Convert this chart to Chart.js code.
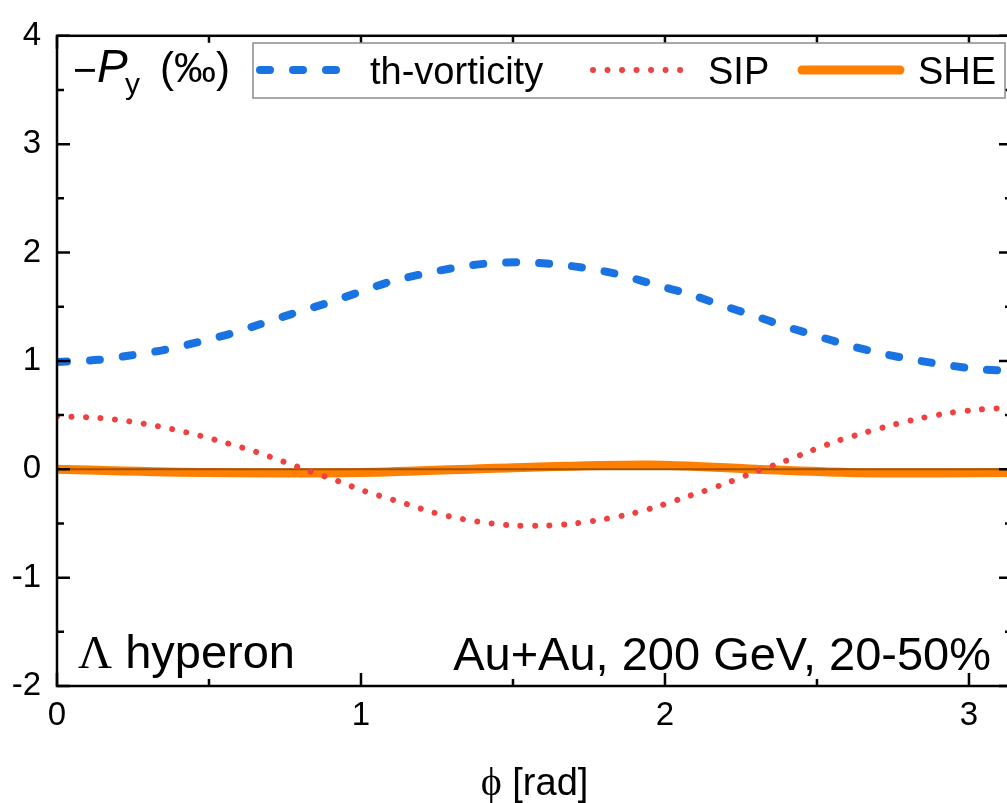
<!DOCTYPE html>
<html>
<head>
<meta charset="utf-8">
<script src="https://cdn.jsdelivr.net/npm/chart.js@4"></script>
<style>
  body { margin: 0; background: #fff; }
  #wrap { width: 1007px; height: 803px; overflow: hidden; }
</style>
</head>
<body>
<div id="wrap"><canvas id="myChart" width="1020" height="803"></canvas></div>
<script>
// values
const phiVort = [0, 0.135, 0.24, 0.35, 0.46, 0.57, 0.67, 0.78, 0.885, 0.99, 1.095, 1.20, 1.31, 1.42, 1.53, 1.645, 1.755, 1.86, 1.97, 2.075, 2.18, 2.29, 2.395, 2.50, 2.61, 2.71, 2.82, 2.93, 3.05, 3.1416]
const vort = [0.99, 1.01, 1.05, 1.10, 1.17, 1.25, 1.34, 1.44, 1.53, 1.63, 1.73, 1.80, 1.86, 1.90, 1.91, 1.89, 1.85, 1.79, 1.70, 1.62, 1.52, 1.42, 1.32, 1.23, 1.14, 1.07, 1.01, 0.96, 0.92, 0.91]

const phiSip = [0, 0.098, 0.19, 0.286, 0.38, 0.47, 0.56, 0.655, 0.745, 0.833, 0.925, 1.01, 1.15, 1.24, 1.335, 1.43, 1.515, 1.61, 1.705, 1.80, 1.89, 1.985, 2.075, 2.12, 2.21, 2.30, 2.39, 2.48, 2.565, 2.66, 2.75, 2.84, 2.935, 3.03, 3.1416]
const sip = [0.49, 0.48, 0.46, 0.42, 0.37, 0.31, 0.24, 0.16, 0.07, -0.02, -0.11, -0.20, -0.32, -0.40, -0.46, -0.50, -0.52, -0.52, -0.50, -0.46, -0.41, -0.335, -0.25, -0.21, -0.12, -0.02, 0.07, 0.17, 0.26, 0.34, 0.41, 0.47, 0.52, 0.55, 0.57]

const phiShe = [0, 0.5, 1.0, 1.5, 1.95, 2.3, 2.6, 2.9, 3.1416]
const she = [0.0, -0.03, -0.03, 0.015, 0.04, 0.0, -0.03, -0.035, -0.03]

const seriesNames = ['th-vorticity', 'SIP', 'SHE']
const xTickLabels = [0, 1, 2, 3]
const yTickLabels = [-2, -1, 0, 1, 2, 3, 4]

const sans = "'Liberation Sans', Arial, sans-serif"
const serif = "'Liberation Serif', 'Times New Roman', serif"

const pts = (xs, ys) => xs.map((v, i) => ({x: v, y: ys[i]}))

const styles = [
    {color: '#1a73e3', width: 8, dash: [10, 23], cap: 'round'},
    {color: '#f04141', width: 6, dash: [0.01, 14.5], cap: 'round'},
    {color: '#ff8000', width: 9, dash: [], cap: 'butt'}
]

let data = {
    datasets: [
        {label: seriesNames[0], data: pts(phiVort, vort)},
        {label: seriesNames[1], data: pts(phiSip, sip)},
        {label: seriesNames[2], data: pts(phiShe, she)}
    ].map((d, i) => Object.assign(d, {
        borderColor: styles[i].color,
        borderWidth: styles[i].width,
        borderDash: styles[i].dash,
        borderCapStyle: styles[i].cap,
        pointRadius: 0,
        tension: 0.3,
        fill: false
    }))
}

// frame, inward ticks, legend and annotations
const decor = {
    id: 'decor',
    afterDatasetDraw(chart, args) {
        if (args.index !== 2) return
        const {ctx, chartArea: a, scales: {y}} = chart
        const py = y.getPixelForValue(0)
        ctx.save()
        ctx.strokeStyle = '#a35200'
        ctx.lineWidth = 2
        ctx.beginPath()
        ctx.moveTo(a.left, py)
        ctx.lineTo(a.right, py)
        ctx.stroke()
        ctx.restore()
    },
    afterDraw(chart) {
        const {ctx, chartArea: a, scales: {x, y}} = chart
        ctx.save()
        ctx.strokeStyle = '#000'
        ctx.lineWidth = 2.5
        ctx.strokeRect(a.left, a.top, a.right - a.left, a.bottom - a.top)
        ctx.beginPath()
        x.ticks.forEach(t => {
            const px = x.getPixelForValue(t.value)
            const len = xTickLabels.includes(t.value) ? 13 : 7
            ctx.moveTo(px, a.bottom); ctx.lineTo(px, a.bottom - len)
            ctx.moveTo(px, a.top); ctx.lineTo(px, a.top + len)
        })
        y.ticks.forEach(t => {
            const py = y.getPixelForValue(t.value)
            const len = yTickLabels.includes(t.value) ? 13 : 7
            ctx.moveTo(a.left, py); ctx.lineTo(a.left + len, py)
            ctx.moveTo(a.right, py); ctx.lineTo(a.right - len, py)
        })
        ctx.stroke()

        // legend box
        ctx.fillStyle = '#fff'
        ctx.fillRect(253, 43, 752, 55)
        ctx.strokeStyle = '#8c8c8c'
        ctx.lineWidth = 1.5
        ctx.strokeRect(253, 43, 752, 55)
        const samples = [[258, 340, 370], [593, 687, 708], [802, 900, 918]]
        chart.data.datasets.forEach((ds, i) => {
            const [x0, x1, tx] = samples[i]
            ctx.strokeStyle = ds.borderColor
            ctx.lineWidth = ds.borderWidth
            ctx.lineCap = i === 2 ? 'round' : ds.borderCapStyle
            ctx.setLineDash(ds.borderDash)
            ctx.beginPath()
            ctx.moveTo(x0 + (i === 0 ? 2 : 0), 70)
            ctx.lineTo(x1, 70)
            ctx.stroke()
            ctx.setLineDash([])
            ctx.fillStyle = '#000'
            ctx.font = '38px ' + sans
            ctx.textBaseline = 'alphabetic'
            ctx.textAlign = 'left'
            ctx.fillText(ds.label, tx, 84)
        })

        // y title inside plot
        ctx.fillStyle = '#000'
        ctx.font = '41px ' + sans
        ctx.fillText('\u2212', 73, 84)
        ctx.font = 'italic 46px ' + sans
        ctx.fillText('P', 97, 82)
        ctx.font = '30px ' + sans
        ctx.fillText('y', 125, 94)
        ctx.font = '42px ' + sans
        ctx.fillText('(\u2030)', 160, 82)

        // annotations
        ctx.font = '47px ' + serif
        ctx.fillText('\u039B', 78, 668)
        const lw = ctx.measureText('\u039B').width
        ctx.font = '47px ' + sans
        ctx.fillText(' hyperon', 78 + lw, 668)
        ctx.textAlign = 'right'
        ctx.fillText('Au+Au, 200 GeV, 20-50%', 991, 670)

        // x title
        ctx.textAlign = 'left'
        ctx.font = '40px ' + serif
        const w1 = ctx.measureText('\u03D5').width
        ctx.font = '38px ' + sans
        const w2 = ctx.measureText(' [rad]').width
        const cx = (a.left + a.right) / 2
        let sx = cx - (w1 + w2) / 2
        ctx.font = '40px ' + serif
        ctx.fillText('\u03D5', sx, 795)
        ctx.font = '38px ' + sans
        ctx.fillText(' [rad]', sx + w1, 795)
        ctx.restore()
    }
}

let config = {
    type: 'line',
    data: data,
    options: {
        responsive: false,
        devicePixelRatio: 1,
        animation: false,
        layout: {padding: {left: 0, top: 20, right: 8, bottom: 0}},
        plugins: {legend: {display: false}, tooltip: {enabled: false}},
        scales: {
            x: {
                type: 'linear',
                min: 0,
                max: Math.PI,
                afterFit: s => { s.height = 117 },
                grid: {display: false, drawTicks: false},
                border: {display: false},
                ticks: {
                    stepSize: 0.5,
                    includeBounds: false,
                    autoSkip: false,
                    maxRotation: 0,
                    padding: 10,
                    color: '#000',
                    font: {family: sans, size: 33},
                    callback: v => xTickLabels.includes(v) ? String(v) : ''
                }
            },
            y: {
                min: -2,
                max: 4,
                afterFit: s => { s.width = 57 },
                grid: {display: false, drawTicks: false},
                border: {display: false},
                ticks: {
                    stepSize: 0.5,
                    autoSkip: false,
                    padding: 16,
                    color: '#000',
                    font: {family: sans, size: 33},
                    callback: v => yTickLabels.includes(v) ? String(v) : ''
                }
            }
        }
    },
    plugins: [decor]
}

let myChart = new Chart(document.getElementById('myChart'), config)
</script>
</body>
</html>
